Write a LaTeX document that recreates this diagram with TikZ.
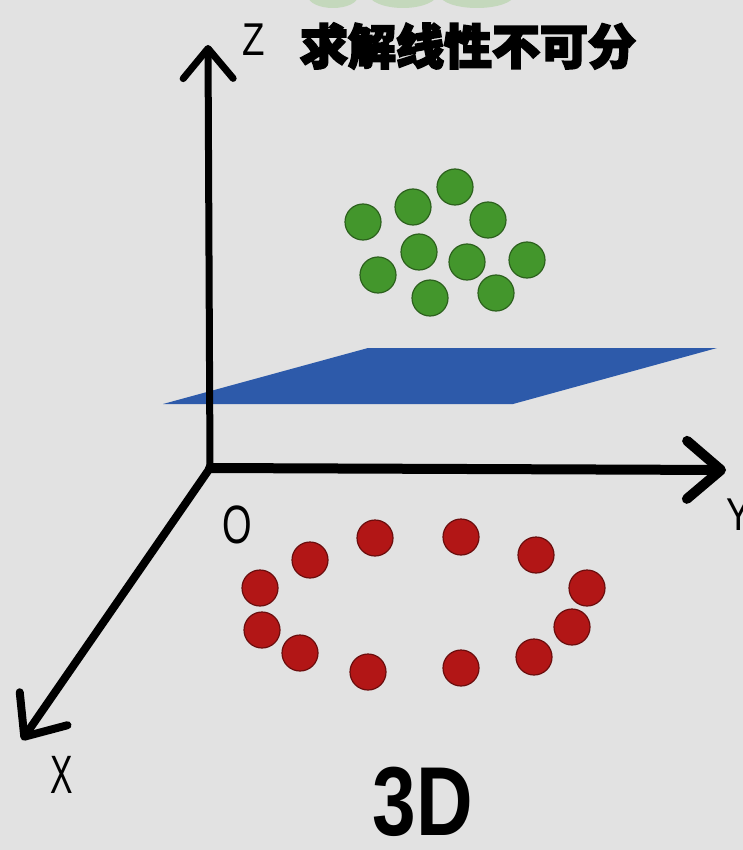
\documentclass[tikz,border=0pt]{standalone}
\usepackage{fontspec}
\setmainfont{Liberation Sans}
\setsansfont{Liberation Sans}
\newfontfamily\cjk[BoldFeatures={FakeBold=4}]{Noto Sans CJK SC}
\usetikzlibrary{positioning,arrows.meta}

\definecolor{bggray}{RGB}{226,226,226}
\definecolor{dotgreen}{RGB}{67,150,44}
\definecolor{dotred}{RGB}{178,22,22}
\definecolor{planeblue}{RGB}{45,90,170}
\definecolor{fadegreen}{RGB}{196,216,188}

\begin{document}
\begin{tikzpicture}[
    x=1pt, y=-1pt,
    font=\sffamily,
    axis/.style={
        line width=8pt,
        line cap=round,
        line join=round,
        -{Straight Barb[length=34pt,width=58pt,round]}
    },
    greendot/.style={
        circle,
        fill=dotgreen,
        draw=dotgreen!65!black,
        line width=1.2pt,
        minimum size=36pt,
        inner sep=0pt
    },
    reddot/.style={
        greendot,
        fill=dotred,
        draw=dotred!60!black
    },
    plane/.style={
        fill=planeblue
    },
    axislabel/.style={
        font=\sffamily\fontsize{46}{46}\selectfont,
        inner sep=0pt,
        xscale=0.8
    },
    titlelabel/.style={
        font=\cjk\bfseries\fontsize{48}{48}\selectfont,
        inner sep=0pt
    },
    bigtag/.style={
        font=\sffamily\bfseries\fontsize{98}{98}\selectfont,
        inner sep=0pt,
        xscale=0.8
    }
]

% Background
\fill[bggray] (0,0) rectangle (743,850);
\useasboundingbox (0,0) rectangle (743,850);

% Faded blobs at the top edge
\fill[fadegreen] (333,-4) ellipse (25 and 12);
\fill[fadegreen] (403,-7) ellipse (35 and 15);
\fill[fadegreen] (477,-5) ellipse (37 and 13);

% Separating plane
\fill[plane] (163,404) -- (368,348) -- (717,348) -- (513,404) -- cycle;

% Axes
\coordinate (O) at (210,468);
\coordinate (zend) at (208,45);
\coordinate (yend) at (726,470);
\coordinate (xend) at (22,740);

\draw[axis, line width=7pt, -{Straight Barb[length=30pt,width=50pt,round]}] (O) -- (zend);
\draw[axis, line width=10pt] (O) -- (yend);
\draw[axis, line width=8pt] (O) -- (xend);

\node[axislabel] (zlab) at (254,40) {Z};
\node[axislabel] (ylab) at (739,515) {Y};
\node[axislabel, font=\sffamily\fontsize{54}{54}\selectfont, xscale=0.78] (xlab) at (62,775) {X};
\node[axislabel, font=\sffamily\fontsize{54}{54}\selectfont, xscale=0.88] (olab) at (237,525) {O};

% Title
\node[titlelabel] (title) at (468,46) {求解线性不可分};

% Green class (above the plane)
\foreach \i/\x/\y in {1/363/222, 2/413/207, 3/455/187, 4/488/220, 5/419/252,
                      6/467/262, 7/527/260, 8/378/275, 9/430/298, 10/496/293} {
    \node[greendot] (g\i) at (\x,\y) {};
}

% Red class (below the plane)
\foreach \i/\x/\y in {1/375/538, 2/461/537, 3/310/560, 4/536/555, 5/260/588, 6/587/588,
                      7/262/630, 8/572/627, 9/300/653, 10/534/657, 11/368/672, 12/461/668} {
    \node[reddot] (r\i) at (\x,\y) {};
}

% Tag
\node[bigtag] (tag) at (423,802) {3D};

\end{tikzpicture}
\end{document}
